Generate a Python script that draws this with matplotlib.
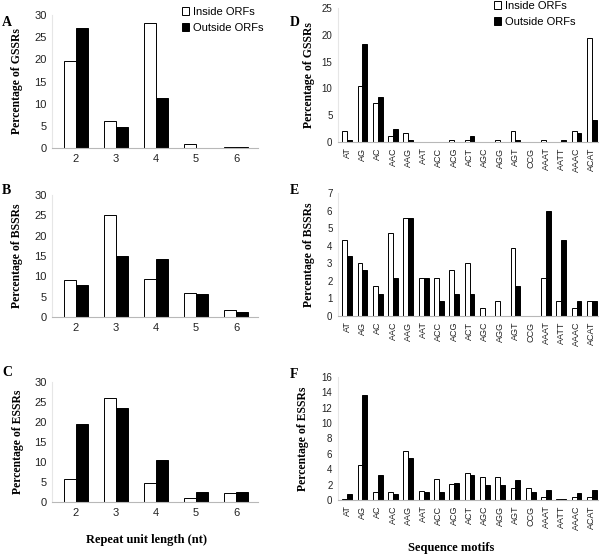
import numpy as np
import matplotlib
matplotlib.use('Agg')
import matplotlib.pyplot as plt
from matplotlib.patches import Patch

plt.rcParams['font.family'] = ['Liberation Sans', 'DejaVu Sans']

lengths = ['2', '3', '4', '5', '6']
motifs = ['AT', 'AG', 'AC', 'AAC', 'AAG', 'AAT', 'ACC', 'ACG', 'ACT', 'AGC',
          'AGG', 'AGT', 'CCG', 'AAAT', 'AATT', 'AAAC', 'ACAT']

# repeat unit length, % of SSRs
g_len_in = [19.7, 6.1, 28.3, 0.8, 0.3]
g_len_out = [27.0, 4.8, 11.3, 0.0, 0.3]
b_len_in = [9.0, 25.2, 9.4, 6.0, 1.8]
b_len_out = [7.8, 15.0, 14.2, 5.6, 1.2]
e_len_in = [5.7, 26.1, 4.7, 1.1, 2.2]
e_len_out = [19.4, 23.5, 10.4, 2.4, 2.6]

# sequence motifs, % of SSRs
g_mot_in = [2.0, 10.5, 7.2, 1.2, 1.6, 0, 0, 0.4, 0.4, 0, 0.4, 2.0, 0, 0.4, 0, 2.0, 19.4]
g_mot_out = [0.4, 18.3, 8.4, 2.5, 0.4, 0, 0, 0, 1.2, 0, 0, 0.4, 0, 0, 0.4, 1.6, 4.1]
b_mot_in = [4.3, 3.0, 1.7, 4.7, 5.55, 2.15, 2.15, 2.6, 3.0, 0.43, 0.85, 3.85, 0, 2.15, 0.85, 0.43, 0.85]
b_mot_out = [3.4, 2.6, 1.27, 2.15, 5.55, 2.15, 0.85, 1.27, 1.27, 0, 0, 1.7, 0, 5.95, 4.3, 0.85, 0.85]
e_mot_in = [0.1, 4.5, 1.1, 1.1, 6.35, 1.15, 2.75, 2.1, 3.5, 2.95, 3.0, 1.55, 1.55, 0.4, 0.1, 0.35, 0.4]
e_mot_out = [0.75, 13.7, 3.2, 0.75, 5.4, 1.1, 1.1, 2.2, 3.3, 1.9, 1.9, 2.6, 1.0, 1.35, 0.1, 0.85, 1.3]

W, H = 600, 554
fig = plt.figure(figsize=(6, 5.54), dpi=100)

serif = ['Liberation Serif', 'DejaVu Serif']
spine_col = '#b8b8b8'


def px_axes(left, top, right, bottom):
    return fig.add_axes([left / W, 1 - bottom / H, (right - left) / W, (bottom - top) / H])


def draw(ax, cats, vin, vout, ymax, ystep, ylabel, labx, rotate, bw):
    x = np.arange(len(cats))
    ax.bar(x - bw / 2, vin, bw, color='white', edgecolor='black', linewidth=0.7)
    ax.bar(x + bw / 2, vout, bw, color='black', edgecolor='black', linewidth=0.7)
    ax.set_ylim(0, ymax)
    ax.set_yticks(np.arange(0, ymax + 0.01, ystep))
    ax.set_xticks(x)
    if rotate:
        ax.set_xticklabels(cats, rotation=90, fontsize=6.5)
        ax.set_xlim(-0.6, len(cats) - 0.6)
        ax.tick_params(axis='y', labelsize=7)
    else:
        ax.set_xticklabels(cats, fontsize=8)
        ax.set_xlim(-0.6, 4.55)
        ax.tick_params(axis='y', labelsize=8)
    ax.tick_params(length=0, colors='#222222', pad=4)
    for s in ['top', 'right']:
        ax.spines[s].set_visible(False)
    ax.spines['left'].set_color('#e6e6e6')
    ax.spines['bottom'].set_color(spine_col)
    ax.spines['left'].set_linewidth(0.8)
    ax.spines['bottom'].set_linewidth(0.8)
    ax.set_ylabel(ylabel, family=serif, fontweight='bold', fontsize=8.5)
    ax.yaxis.set_label_coords(labx, 0.5)


axA = px_axes(52, 15, 258, 148)
axB = px_axes(52, 195, 258, 317)
axC = px_axes(52, 382, 258, 502)
axD = px_axes(338, 8, 598, 142)
axE = px_axes(338, 193, 598, 316)
axF = px_axes(338, 377, 598, 500)

draw(axA, lengths, g_len_in, g_len_out, 30, 5, 'Percentage of GSSRs', -0.14, False, 0.3)
draw(axB, lengths, b_len_in, b_len_out, 30, 5, 'Percentage of BSSRs', -0.14, False, 0.3)
draw(axC, lengths, e_len_in, e_len_out, 30, 5, 'Percentage of ESSRs', -0.135, False, 0.3)
draw(axD, motifs, g_mot_in, g_mot_out, 25, 5, 'Percentage of GSSRs', -0.087, True, 0.32)
draw(axE, motifs, b_mot_in, b_mot_out, 7, 1, 'Percentage of BSSRs', -0.087, True, 0.32)
draw(axF, motifs, e_mot_in, e_mot_out, 16, 2, 'Percentage of ESSRs', -0.11, True, 0.32)

handles = [Patch(facecolor='white', edgecolor='black', linewidth=0.7, label='Inside ORFs'),
           Patch(facecolor='black', edgecolor='black', linewidth=0.7, label='Outside ORFs')]
for anchor in [(182, 7), (494, 1)]:
    fig.legend(handles=handles, loc='upper left',
               bbox_to_anchor=(anchor[0] / W, 1 - anchor[1] / H),
               frameon=False, fontsize=8, handlelength=0.65, handleheight=0.65,
               handletextpad=0.35, borderpad=0, borderaxespad=0, labelspacing=0.55)

for letter, (lx, ly) in zip('ABCDEF', [(2, 22), (2, 190), (2, 372),
                                       (290, 22), (290, 190), (290, 375)]):
    fig.text(lx / W, 1 - ly / H, letter, family=serif, fontweight='bold',
             fontsize=10, va='center', ha='left')

fig.text(147 / W, 1 - 540 / H, 'Repeat unit length (nt)', family=serif,
         fontweight='bold', fontsize=9, ha='center', va='center')
fig.text(451 / W, 1 - 548 / H, 'Sequence motifs', family=serif,
         fontweight='bold', fontsize=9, ha='center', va='center')

fig.savefig('out.png', dpi=100)
